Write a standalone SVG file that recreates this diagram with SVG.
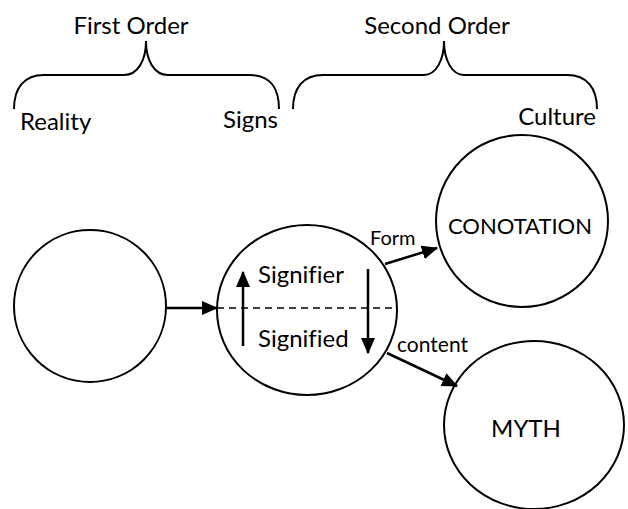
<svg xmlns="http://www.w3.org/2000/svg" width="628" height="509" viewBox="0 0 628 509">
<style>
.n{fill:#fff;stroke:#000;stroke-width:2}
.t{font-family:Lato,"Liberation Sans",sans-serif;fill:#000;font-variant-ligatures:none}
.c{fill:none;stroke:#000;stroke-width:2.5}
.b{fill:none;stroke:#000;stroke-width:2}
.d{fill:none;stroke:#000;stroke-width:1.5;stroke-dasharray:7 5}
</style>
<defs>
<marker id="ah" markerWidth="6.5" markerHeight="5.6" refX="6" refY="2.8" orient="auto" markerUnits="strokeWidth">
<path d="M0,0 L6.5,2.8 L0,5.6 Z" fill="#000"/>
</marker>
</defs>
<g id="brace1">
<path class="b" d="M14,109 C14,88 24,75 44,75 L124,75 C138,75 146,60 146,41 C146,60 154,75 168,75 L250,75 C270,75 279,88 279,109"/>
<text class="t" x="131" y="34" font-size="24" text-anchor="middle">First Order</text>
<text class="t" x="20" y="130" font-size="24">Reality</text>
<text class="t" x="278" y="128" font-size="24" text-anchor="end">Signs</text>
</g>
<g id="brace2">
<path class="b" d="M293,109 C293,88 303,75 323,75 L424,75 C436,75 444,60 444,41 C444,60 452,75 464,75 L567,75 C587,75 597,88 597,109"/>
<text class="t" x="437" y="34" font-size="24" text-anchor="middle">Second Order</text>
<text class="t" x="596" y="125" font-size="24" text-anchor="end">Culture</text>
</g>
<g id="reality">
<circle class="n" cx="90" cy="306" r="76"/>
</g>
<g id="sign">
<ellipse class="n" cx="307" cy="310" rx="90" ry="85"/>
<text class="t" x="258" y="283" font-size="24">Signifier</text>
<text class="t" x="258" y="347" font-size="24">Signified</text>
</g>
<g id="conotation">
<circle class="n" cx="522" cy="221" r="86"/>
<text class="t" x="520" y="234" font-size="22" text-anchor="middle">CONOTATION</text>
</g>
<g id="myth">
<ellipse class="n" cx="534" cy="425" rx="90" ry="84"/>
<text class="t" x="526" y="437" font-size="24" text-anchor="middle">MYTH</text>
</g>
<g id="connectors">
<line class="c" x1="167" y1="308" x2="217" y2="308" marker-end="url(#ah)"/>
<line class="d" x1="217" y1="308" x2="396" y2="308"/>
<line class="c" x1="243" y1="346" x2="243" y2="272" marker-end="url(#ah)"/>
<line class="c" x1="368" y1="269" x2="368" y2="353" marker-end="url(#ah)"/>
<line class="c" x1="385" y1="264" x2="437" y2="248" marker-end="url(#ah)"/>
<line class="c" x1="387" y1="353" x2="457" y2="386" marker-end="url(#ah)"/>
<text class="t" x="370" y="245" font-size="20">Form</text>
<text class="t" x="397" y="352" font-size="21">content</text>
</g>
</svg>
